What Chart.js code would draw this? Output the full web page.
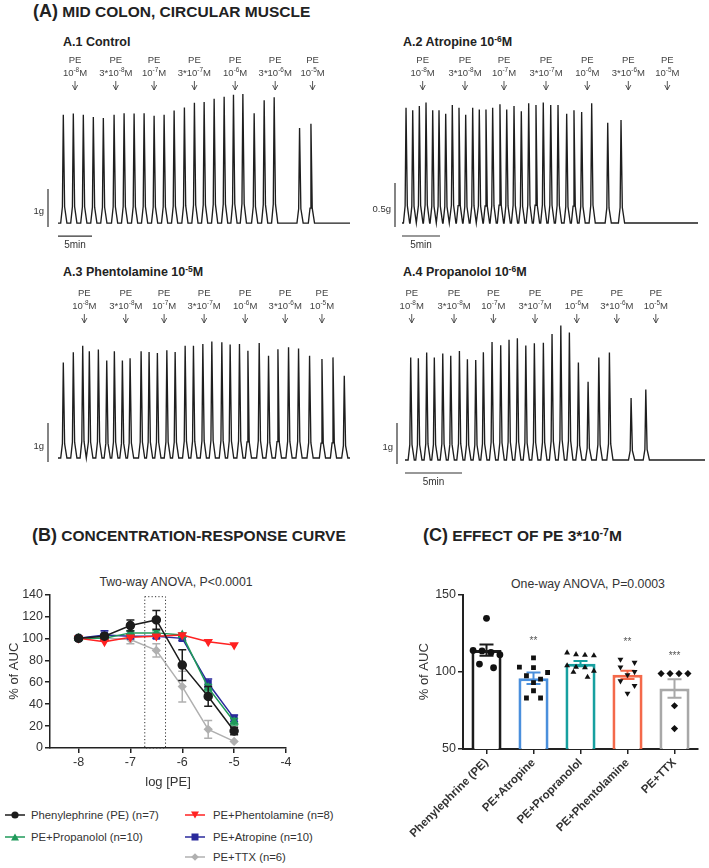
<!DOCTYPE html>
<html><head><meta charset="utf-8">
<script src="https://cdn.jsdelivr.net/npm/chart.js@4/dist/chart.umd.min.js"></script>
<style>
body{margin:0;width:709px;height:868px;background:#fff;position:relative;overflow:hidden;font-family:"Liberation Sans",Arial,Helvetica,sans-serif;color:#222}
.abs{position:absolute;white-space:nowrap}
.h{font-weight:bold;font-size:15.5px;line-height:20px}
.h .big{font-size:18px}
.sub{font-weight:bold;font-size:12.5px;line-height:14px}
.sup{font-size:0.68em;position:relative;top:-0.45em}
.stat{font-size:12.3px;line-height:14px;color:#333;transform:translateX(-50%)}
canvas{position:absolute}
.leg{font-size:11.3px;line-height:14px;color:#333;display:flex;align-items:center}
.leg svg{margin-right:6px}
</style></head><body>

<div class="abs h" style="left:33px;top:1px"><span class="big">(A)</span> MID COLON, CIRCULAR MUSCLE</div>
<div class="abs sub" style="left:63px;top:35px">A.1 Control</div>
<div class="abs sub" style="left:403px;top:35px">A.2 Atropine 10<span class="sup">-6</span>M</div>
<div class="abs sub" style="left:63px;top:265px">A.3 Phentolamine 10<span class="sup">-5</span>M</div>
<div class="abs sub" style="left:403px;top:265px">A.4 Propanolol 10<span class="sup">-6</span>M</div>

<canvas id="a1" width="355" height="200" style="left:0;top:50px"></canvas>
<canvas id="a2" width="354" height="200" style="left:355px;top:50px"></canvas>
<canvas id="a3" width="355" height="187" style="left:0;top:283px"></canvas>
<canvas id="a4" width="354" height="212" style="left:355px;top:283px"></canvas>

<div class="abs h" style="left:32px;top:525px"><span class="big">(B)</span> CONCENTRATION-RESPONSE CURVE</div>
<div class="abs h" style="left:423px;top:525px"><span class="big">(C)</span> EFFECT OF PE 3*10<span class="sup">-7</span>M</div>
<div class="abs stat" style="left:176px;top:575px">Two-way ANOVA, P&lt;0.0001</div>
<div class="abs stat" style="left:588px;top:577px">One-way ANOVA, P=0.0003</div>

<canvas id="cb" width="300" height="205" style="left:0;top:585px"></canvas>
<canvas id="cc" width="309" height="275" style="left:400px;top:585px"></canvas>
<div id="legend"></div>

<script>
// ---------------- DATA ----------------
const doseLabels = ['10^{-8}M','3*10^{-8}M','10^{-7}M','3*10^{-7}M','10^{-6}M','3*10^{-6}M','10^{-5}M'];

// A.1 Control (time in min, peak force in g)
const a1PeakTimes = [0.78,2.25,3.72,5.19,6.66,8.24,9.71,11.18,12.65,14.12,15.59,17.06,18.57,20.04,21.47,22.94,24.41,25.78,27.16,28.82,30.29,31.76,35.49,37.16];
const a1PeakForce = [2.85,2.88,2.85,2.79,2.76,2.85,2.89,2.88,2.89,2.82,2.85,2.96,3.04,3.16,3.18,3.27,3.32,3.37,3.39,2.89,3.23,3.31,2.50,2.61];
const a1DoseTimes = [2.5,8.49,14.12,20.04,26.03,31.91,37.4];

// A.2 Atropine 10^-6 M
const a2PeakTimes = [0.53,1.41,2.28,3.16,4.04,4.87,5.75,6.62,7.5,8.38,9.3,10.17,11.05,11.93,12.89,13.78,14.74,15.7,16.67,17.63,18.59,19.57,20.53,21.67,22.63,23.64,24.96,27.07,28.82];
const a2PeakForce = [1.31,1.28,1.33,1.37,1.28,1.28,1.24,1.34,1.31,1.23,1.31,1.29,1.29,1.31,1.35,1.29,1.33,1.27,1.36,1.34,1.37,1.34,1.34,1.24,1.28,1.26,1.36,1.14,1.17];
const a2DoseTimes = [2.72,8.29,13.42,18.95,24.38,29.78,34.91];

// A.3 Phentolamine 10^-5 M
const a3PeakTimes = [0.78,2.25,3.63,4.6,5.93,7.16,8.28,9.46,10.59,12.21,13.38,14.6,15.99,17.21,18.68,19.9,21.28,22.6,24.07,25.29,26.66,27.9,29.56,30.93,32.31,33.87,35.34,36.96,38.78,40.4,42.06];
const a3PeakForce = [2.45,2.71,2.88,2.74,2.78,2.50,2.74,2.50,2.56,2.74,2.72,2.69,2.76,2.72,2.88,2.88,2.92,2.99,2.97,2.91,2.92,2.75,2.95,2.62,2.79,2.84,2.81,2.62,2.54,2.58,2.11];
const a3DoseTimes = [3.87,9.96,15.59,21.47,27.5,33.38,38.78];

// A.4 Propanolol 10^-6 M
const a4PeakTimes = [0.5,1.17,1.9,2.57,3.31,4.01,4.77,5.47,6.2,6.87,7.63,8.39,9.12,9.85,10.59,11.34,12.13,12.89,13.66,14.41,15.2,16.05,16.99,17.92,19.82,21.11];
const a4PeakForce = [2.50,2.48,2.62,2.50,2.60,2.54,2.66,2.46,2.44,2.63,2.88,2.80,2.93,2.97,2.79,2.85,2.86,3.07,3.28,3.11,2.38,1.91,2.50,2.62,1.51,1.72];
const a4DoseTimes = [0.59,4.3,7.75,11.4,15.06,18.57,21.99];

// (B) concentration-response, % of AUC (mean, SEM)
const logPE = [-8,-7.5,-7,-6.5,-6,-5.5,-5];
const logTicks = [-8,-7,-6,-5,-4];
const peMean = [100,102,111.7,116.8,75.6,47,15.5];
const peSem = [1,2,5,8.5,14,9,3.5];
const propMean = [100,100,105,105,103,55,24];
const propSem = [1,2,2,2,2,3,3];
const phentMean = [100,97,101,102,103,97,94];
const phentSem = [1,1.5,1.5,1.5,1.5,1.5,1.5];
const atroMean = [100,103,102,102,100,59,27];
const atroSem = [1,4,2,2,2,4,3];
const ttxMean = [100,100,99,89,56,17,6];
const ttxSem = [1,2,4,6,14,8,1.5];
const highlightConc = 3e-7;

// (C) effect of PE 3*10^-7 M, % of AUC
const groups = ['Phenylephrine (PE)','PE+Atropine','PE+Propranolol','PE+Phentolamine','PE+TTX'];
const aucPE = [134.6,113.8,113.5,112.5,111,105,102.6];
const aucAtro = [109,103,102.7,99.5,97.4,95.2,93,87.7,83,83];
const aucProp = [112.3,111.2,110.8,110.5,104,103,102.7,100.5,99.8,96.5];
const aucPhent = [108,106,103,100,98,94,91,86];
const aucTTX = [98.8,98.8,98.8,98.8,78,63.2];
const cMeans = [114,95.8,105.2,98,89.2];
const cSems = [3.7,3.7,1.7,2.7,6];
const cSig = ['','**','','**','***'];

// ---------------- RENDER ----------------
const FONT = '"Liberation Sans", Arial, Helvetica, sans-serif';
Chart.defaults.font.family = FONT;
Chart.defaults.color = '#333';

function drawRich(ctx, str, cx, cy, size){
  const parts=[]; const re=/\^\{([^}]*)\}/g; let last=0, m;
  while((m=re.exec(str))){ if(m.index>last) parts.push({t:str.slice(last,m.index),s:false}); parts.push({t:m[1],s:true}); last=re.lastIndex; }
  if(last<str.length) parts.push({t:str.slice(last),s:false});
  const ss=size*0.68; let w=0;
  parts.forEach(p=>{ctx.font=(p.s?ss:size)+'px '+FONT; p.w=ctx.measureText(p.t).width; w+=p.w;});
  let x=cx-w/2; ctx.textAlign='left'; ctx.textBaseline='alphabetic';
  parts.forEach(p=>{ctx.font=(p.s?ss:size)+'px '+FONT; ctx.fillText(p.t,x,cy+size*0.36-(p.s?size*0.45:0)); x+=p.w;});
}

function buildTrace(times, heights, duration, pxPerMin){
  const r=2.6/pxPerMin, f=3.6/pxPerMin, kr=0.9/pxPerMin, kf=1.3/pxPerMin;
  const pts=[{x:0,y:0}]; let prevEnd=0;
  times.forEach((t,i)=>{
    const h=heights[i];
    const s=Math.max(t-r,prevEnd);
    pts.push({x:s,y:0},{x:t-kr,y:h*0.15},{x:t,y:h},{x:t+kf,y:h*0.15},{x:t+f,y:0});
    prevEnd=t+f;
  });
  pts.push({x:duration,y:0});
  return pts;
}

const traceDeco={
  id:'traceDeco',
  afterDraw(chart,args,o){
    const {ctx,chartArea:ca,scales:{x,y}}=chart; const top=ca.top;
    ctx.save();
    ctx.fillStyle='#444'; ctx.strokeStyle='#444';
    o.doses.forEach((t,i)=>{
      const px=x.getPixelForValue(t);
      ctx.font='9.5px '+FONT; ctx.textAlign='center'; ctx.textBaseline='middle';
      ctx.fillText('PE',px,top+10);
      drawRich(ctx,doseLabels[i],px,top+23,9.5);
      ctx.lineWidth=0.9; ctx.beginPath();
      ctx.moveTo(px,top+31); ctx.lineTo(px,top+40);
      ctx.moveTo(px-2.6,top+35); ctx.lineTo(px,top+40); ctx.lineTo(px+2.6,top+35);
      ctx.stroke();
    });
    const y0=y.getPixelForValue(0);
    const len=y0-y.getPixelForValue(o.gBar);
    const bx=ca.left-o.barGap;
    ctx.strokeStyle='#333'; ctx.lineWidth=1.2;
    ctx.beginPath(); ctx.moveTo(bx,y0+4); ctx.lineTo(bx,y0+4-len); ctx.stroke();
    ctx.fillStyle='#333'; ctx.font='9.5px '+FONT; ctx.textAlign='right'; ctx.textBaseline='middle';
    ctx.fillText(o.gLabel,bx-4,y0+4-len*0.4);
    if(o.minBar){
      const xa=x.getPixelForValue(0), xb=x.getPixelForValue(o.minBar);
      ctx.beginPath(); ctx.moveTo(xa,y0+13); ctx.lineTo(xb,y0+13); ctx.stroke();
      ctx.textAlign='center'; ctx.font='10px '+FONT;
      ctx.fillText(o.minBar+'min',(xa+xb)/2,y0+22);
    }
    ctx.restore();
  }
};

function traceChart(id,times,force,doses,c){
  new Chart(document.getElementById(id),{
    type:'line',
    data:{datasets:[{data:buildTrace(times,force,c.duration,c.pxPerMin),borderColor:'#1e1e1e',borderWidth:1.35,pointRadius:0,tension:0}]},
    options:{animation:false,responsive:false,devicePixelRatio:1,
      layout:{padding:c.padding},
      plugins:{legend:{display:false},tooltip:{enabled:false},traceDeco:{doses:doses,gBar:c.gBar,gLabel:c.gLabel,barGap:c.barGap,minBar:c.minBar}},
      scales:{x:{type:'linear',display:false,min:0,max:c.duration},y:{display:false,min:c.ymin,max:c.ymax}}},
    plugins:[traceDeco]
  });
}
traceChart('a1',a1PeakTimes,a1PeakForce,a1DoseTimes,{duration:42.9,pxPerMin:6.8,ymin:-0.13,ymax:4.55,padding:{left:58,right:5,top:0,bottom:22},gBar:1,gLabel:'1g',barGap:10,minBar:5});
traceChart('a2',a2PeakTimes,a2PeakForce,a2DoseTimes,{duration:38.95,pxPerMin:7.6,ymin:-0.057,ymax:1.966,padding:{left:47,right:11,top:0,bottom:22},gBar:0.5,gLabel:'0.5g',barGap:7,minBar:5});
traceChart('a3',a3PeakTimes,a3PeakForce,a3DoseTimes,{duration:42.9,pxPerMin:6.8,ymin:-0.128,ymax:4.487,padding:{left:58,right:5,top:0,bottom:7},gBar:1,gLabel:'1g',barGap:10,minBar:0});
traceChart('a4',a4PeakTimes,a4PeakForce,a4DoseTimes,{duration:26.3,pxPerMin:11.4,ymin:-0.122,ymax:4.317,padding:{left:50,right:4,top:0,bottom:30},gBar:1,gLabel:'1g',barGap:8,minBar:5});

// ---- (B)
const seriesB=[
  {name:'Phenylephrine (PE) (n=7)',mean:peMean,sem:peSem,color:'#1c1c1c',style:'circle',rot:0,order:1},
  {name:'PE+Propanolol (n=10)',mean:propMean,sem:propSem,color:'#1f9a5a',style:'triangle',rot:0,order:3},
  {name:'PE+Phentolamine (n=8)',mean:phentMean,sem:phentSem,color:'#ff2222',style:'triangle',rot:180,order:2},
  {name:'PE+Atropine (n=10)',mean:atroMean,sem:atroSem,color:'#2a2a9c',style:'rect',rot:0,order:4},
  {name:'PE+TTX (n=6)',mean:ttxMean,sem:ttxSem,color:'#b0b0b0',style:'rectRot',rot:0,order:5}
];
const errB={
  id:'errB',
  beforeDatasetsDraw(chart){
    const {ctx,scales:{x,y}}=chart; const lc=Math.log10(highlightConc);
    ctx.save(); ctx.strokeStyle='#333'; ctx.lineWidth=1; ctx.setLineDash([1.2,2.2]);
    const x1=x.getPixelForValue(lc-0.2), x2=x.getPixelForValue(lc+0.2), y1=y.getPixelForValue(138), y2=y.getPixelForValue(0);
    ctx.strokeRect(x1,y1,x2-x1,y2-y1); ctx.restore();
  },
  afterDatasetDraw(chart,args){
    const s=seriesB[args.index]; const {ctx,scales:{x,y}}=chart;
    ctx.save(); ctx.strokeStyle=s.color; ctx.lineWidth=1.5;
    logPE.forEach((lx,i)=>{
      const px=x.getPixelForValue(lx), a=y.getPixelForValue(s.mean[i]+s.sem[i]), b=y.getPixelForValue(s.mean[i]-s.sem[i]);
      if(Math.abs(a-b)<4) return;
      ctx.beginPath(); ctx.moveTo(px,a); ctx.lineTo(px,b);
      ctx.moveTo(px-4,a); ctx.lineTo(px+4,a); ctx.moveTo(px-4,b); ctx.lineTo(px+4,b); ctx.stroke();
    });
    ctx.restore();
  }
};
new Chart(document.getElementById('cb'),{
  type:'line',
  data:{datasets:seriesB.map(s=>({label:s.name,data:logPE.map((lx,i)=>({x:lx,y:s.mean[i]})),borderColor:s.color,backgroundColor:s.color,pointStyle:s.style,pointRotation:s.rot,pointRadius:s.style==='rectRot'?3.6:4,borderWidth:1.5,tension:0,order:s.order}))},
  options:{animation:false,responsive:false,devicePixelRatio:1,
    layout:{padding:{top:8,right:14,left:0,bottom:0}},
    plugins:{legend:{display:false},tooltip:{enabled:false}},
    scales:{
      x:{type:'linear',min:-8.55,max:-4,afterBuildTicks:ax=>{ax.ticks=logTicks.map(v=>({value:v}));},
        grid:{drawOnChartArea:false,color:'#222',tickLength:5,lineWidth:1.5},border:{color:'#222',width:1.5},
        ticks:{color:'#333',font:{size:12.5},padding:2,maxRotation:0},
        title:{display:true,text:'log [PE]',font:{size:13},color:'#333',padding:{top:0,bottom:0}},
        afterFit:ax=>{ax.height=42;}},
      y:{min:0,max:140,ticks:{stepSize:20,color:'#333',font:{size:12.5},padding:2},
        grid:{drawOnChartArea:false,color:'#222',tickLength:5,lineWidth:1.5},border:{color:'#222',width:1.5},
        title:{display:true,text:'% of AUC',font:{size:13},color:'#333',padding:{top:7,bottom:0}},
        afterFit:ax=>{ax.width=50;}}
    }},
  plugins:[errB]
});

// legend (B)
const legPos=[[0,5,815],[2,185,815],[1,5,837],[3,185,837],[4,185,857]];
const legEl=document.getElementById('legend');
legPos.forEach(([i,lx,ly])=>{
  const s=seriesB[i]; const c=s.color; let mk='';
  if(s.style==='circle') mk=`<circle cx="10" cy="6" r="3.6" fill="${c}"/>`;
  else if(s.style==='rect') mk=`<rect x="6.5" y="2.5" width="7" height="7" fill="${c}"/>`;
  else if(s.style==='rectRot') mk=`<polygon points="10,2.2 13.8,6 10,9.8 6.2,6" fill="${c}"/>`;
  else if(s.rot===180) mk=`<polygon points="6,2.5 14,2.5 10,9.5" fill="${c}"/>`;
  else mk=`<polygon points="6,9.5 14,9.5 10,2.5" fill="${c}"/>`;
  const d=document.createElement('div'); d.className='abs leg'; d.style.left=lx+'px'; d.style.top=(ly-7)+'px';
  d.innerHTML=`<svg width="20" height="12"><line x1="0" y1="6" x2="20" y2="6" stroke="${c}" stroke-width="1.5"/>${mk}</svg>${s.name}`;
  if(lx>100) d.querySelector('svg').style.marginRight='8px';
  legEl.appendChild(d);
});

// ---- (C)
const cColors=['#1c1c1c','#4a8fdc','#17a0a0','#f4694a','#a8a8a8'];
const cStyles=['circle','rect','triangle','triangle','rectRot'];
const cRot=[0,0,0,180,0];
const cVals=[aucPE,aucAtro,aucProp,aucPhent,aucTTX];
function swarm(vals){
  const idx=vals.map((v,k)=>k).sort((a,b)=>vals[b]-vals[a]);
  const rows=[]; idx.forEach(k=>{const r=rows[rows.length-1]; if(r&&vals[r[0]]-vals[k]<4) r.push(k); else rows.push([k]);});
  const off=new Array(vals.length).fill(0);
  rows.forEach(r=>r.forEach((k,j)=>{off[k]=(j-(r.length-1)/2)*(r.length>3?0.19:0.3);}));
  return off;
}
const errC={
  id:'errC',
  afterDatasetDraw(chart,args){
    if(args.index!==0) return;
    const {ctx,scales:{x,y}}=chart;
    ctx.save(); ctx.lineWidth=2;
    cMeans.forEach((m,i)=>{
      const px=x.getPixelForValue(i), a=y.getPixelForValue(m+cSems[i]), b=y.getPixelForValue(m-cSems[i]);
      ctx.strokeStyle=cColors[i]; ctx.beginPath(); ctx.moveTo(px,a); ctx.lineTo(px,b);
      ctx.moveTo(px-7,a); ctx.lineTo(px+7,a); ctx.moveTo(px-7,b); ctx.lineTo(px+7,b); ctx.stroke();
    });
    ctx.restore();
  },
  afterDraw(chart){
    const {ctx,scales:{x,y}}=chart;
    ctx.save(); ctx.fillStyle='#555'; ctx.font='10px '+FONT; ctx.textAlign='center'; ctx.textBaseline='middle';
    cSig.forEach((s,i)=>{ if(!s) return; ctx.fillText(s,x.getPixelForValue(i),y.getPixelForValue(Math.max(...cVals[i]))-17); });
    ctx.restore();
  }
};
new Chart(document.getElementById('cc'),{
  type:'bar',
  data:{datasets:[
    {type:'bar',data:cMeans.map((m,i)=>({x:i,y:m})),backgroundColor:'#ffffff',borderColor:cColors,borderWidth:3,barPercentage:0.64,categoryPercentage:1,order:2},
    ...cVals.map((vals,i)=>{const off=swarm(vals); return {type:'scatter',data:vals.map((v,k)=>({x:i+off[k],y:v})),pointStyle:cStyles[i],pointRotation:cRot[i],pointRadius:i===4?3.6:3.4,backgroundColor:'#111',borderColor:'#111',borderWidth:0,order:1};})
  ]},
  options:{animation:false,responsive:false,devicePixelRatio:1,
    layout:{padding:{top:8,right:11,left:0,bottom:0}},
    plugins:{legend:{display:false},tooltip:{enabled:false}},
    scales:{
      x:{type:'linear',min:-0.5,max:4.5,offset:false,afterBuildTicks:ax=>{ax.ticks=groups.map((g,i)=>({value:i}));},
        grid:{offset:false,drawOnChartArea:false,color:'#222',tickLength:5,lineWidth:1.5},border:{color:'#222',width:2},
        ticks:{color:'#333',font:{size:11.5,weight:'bold'},minRotation:45,maxRotation:45,padding:2,autoSkip:false,callback:v=>groups[v]},
        afterFit:ax=>{ax.height=111;}},
      y:{min:50,max:150,ticks:{stepSize:50,color:'#333',font:{size:12.5},padding:2},
        grid:{drawOnChartArea:false,color:'#222',tickLength:5,lineWidth:1.5},border:{color:'#222',width:2},
        title:{display:true,text:'% of AUC',font:{size:13},color:'#333',padding:{top:17,bottom:0}},
        afterFit:ax=>{ax.width=63;}}
    }},
  plugins:[errC]
});
</script>
</body></html>
